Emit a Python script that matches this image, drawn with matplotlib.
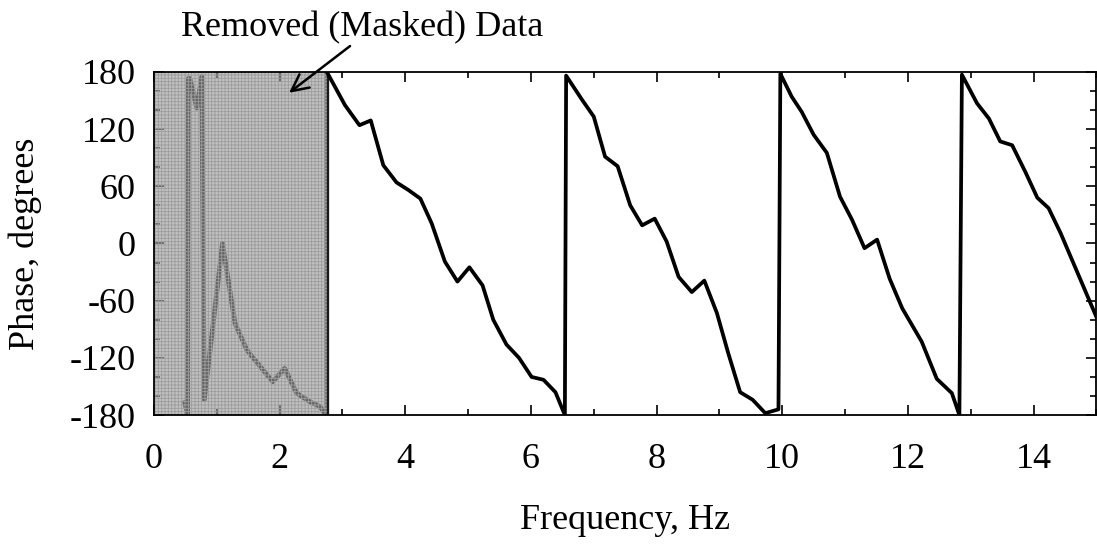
import matplotlib
matplotlib.use("Agg")
import matplotlib.pyplot as plt
from matplotlib.patches import Rectangle
from matplotlib.ticker import MultipleLocator

plt.rcParams['font.family'] = ['Liberation Serif', 'DejaVu Serif']
plt.rcParams['axes.unicode_minus'] = False
plt.rcParams['hatch.linewidth'] = 0.6

# phase of the low-frequency part that gets masked out
masked_freq = [0.49, 0.535, 0.545, 0.57, 0.68, 0.76, 0.80, 1.09, 1.29, 1.48, 1.69,
               1.89, 2.08, 2.27, 2.48, 2.64, 2.72, 2.75, 2.75]
masked_phase = [-167, -180, 173, 173, 142, 175, -164, 0, -84, -112, -129,
                -145, -131, -157, -166, -171, -178, -180, 180]

# retained phase response (wrapped to +/-180)
freq = [2.75, 3.04, 3.27, 3.45, 3.65, 3.86, 4.05, 4.24, 4.42, 4.63,
        4.83, 5.02, 5.23, 5.40, 5.61, 5.81, 6.01, 6.20, 6.39, 6.54,
        6.56, 6.81, 7.00, 7.18, 7.38, 7.58, 7.77, 7.97, 8.16, 8.35,
        8.56, 8.76, 8.96, 9.14, 9.33, 9.53, 9.73, 9.94, 9.97, 10.15,
        10.31, 10.50, 10.71, 10.92, 11.11, 11.31, 11.51, 11.71, 11.91, 12.22,
        12.46, 12.70, 12.82, 12.86, 13.10, 13.29, 13.47, 13.66, 13.87, 14.06,
        14.24, 14.43, 15.0]
phase = [180, 145, 124, 129, 82, 64, 56, 47, 21, -19,
         -40, -25, -44, -80, -106, -120, -140, -143, -156, -180,
         176, 151, 133, 91, 81, 40, 19, 26, 2, -35,
         -51, -39, -73, -115, -156, -164, -178, -174, 178, 154,
         138, 114, 95, 49, 25, -5, 4, -37, -68, -103,
         -142, -157, -180, 177, 147, 131, 107, 103, 75, 48,
         37, 11, -77]

mask_end = 2.75
fs = 26

fig = plt.figure(figsize=(10.97, 5.44), dpi=100)
ax = fig.add_axes([0.1404, 0.237, 0.859, 0.631])

ax.plot(masked_freq, masked_phase, color='#1a1a1a', lw=3.4, zorder=2)
ax.add_patch(Rectangle((0, -180), mask_end, 360, facecolor=(0.6, 0.6, 0.6, 0.6),
                       edgecolor='#9c9c9c', hatch='+++++', lw=0, zorder=3))
ax.plot(freq, phase, color='black', lw=2.7, zorder=4)

ax.set_xlim(0, 15)
ax.set_ylim(-180, 180)
ax.set_xticks([0, 2, 4, 6, 8, 10, 12, 14])
ax.set_yticks([180, 120, 60, 0, -60, -120, -180])
ax.xaxis.set_minor_locator(MultipleLocator(1))
ax.yaxis.set_minor_locator(MultipleLocator(20))
ax.tick_params(which='both', direction='in', top=True, right=True, width=1.2)
ax.tick_params(which='major', length=7)
ax.tick_params(which='minor', length=4)
ax.tick_params(axis='x', labelsize=fs, pad=20)
ax.tick_params(axis='y', labelsize=fs, pad=13)
for s in ax.spines.values():
    s.set_linewidth(1.3)
    s.set_zorder(5)

ax.set_xlabel('Frequency, Hz', fontsize=fs, labelpad=20)
ax.set_ylabel('Phase, degrees', fontsize=fs, labelpad=20)

ax.text(3.31, 226, 'Removed (Masked) Data', fontsize=fs, ha='center', va='center')
ax.annotate('', xy=(2.15, 158), xytext=(3.12, 207), annotation_clip=False,
            arrowprops=dict(arrowstyle='->', color='black', lw=1.8,
                            mutation_scale=30, shrinkA=0, shrinkB=0))

fig.savefig('out.png', dpi=100)
